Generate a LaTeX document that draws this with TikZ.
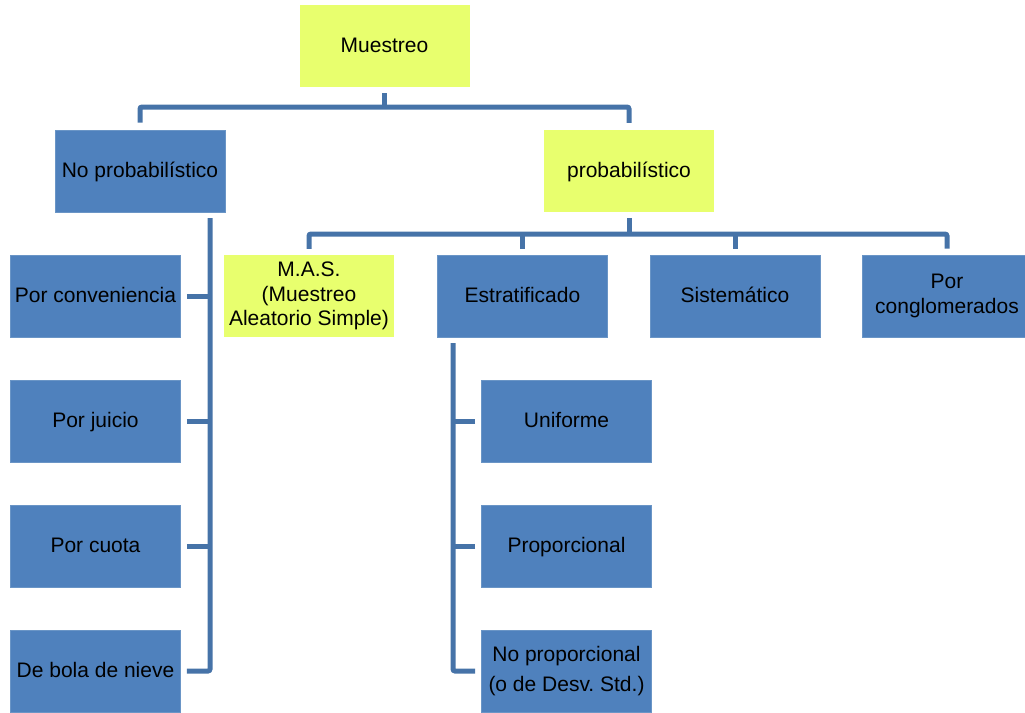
\documentclass[tikz,border=0pt]{standalone}
\usepackage{fontspec}
\setmainfont{Liberation Sans}
\definecolor{boxblue}{HTML}{4F81BD}
\definecolor{boxedge}{HTML}{6A95C6}
\definecolor{ylw}{HTML}{E8FF6E}
\definecolor{conncol}{HTML}{4673A8}
\frenchspacing
\begin{document}
\begin{tikzpicture}[x=1pt,y=-1pt,
  box/.style={rectangle, minimum width=170pt, minimum height=82pt, inner sep=0pt,
    align=center, font=\fontsize{21}{24.5}\selectfont, text=black},
  bbox/.style={box, fill=boxblue, draw=boxedge, line width=0.8pt},
  ybox/.style={box, fill=ylw},
  one/.style={text height=15pt, text depth=3pt},
  conn/.style={draw=conncol, line width=5pt, rounded corners=2pt}]
\useasboundingbox (0,0) rectangle (1025,712);
\begin{scope}
\clip (0,0) rectangle (1025,712);
\node[ybox,one] (mu) at (384.5,46) {Muestreo};
\node[bbox,one] (np) at (140,171) {No probabilístico};
\node[ybox,one] (pr) at (629,171) {probabilístico};
\node[bbox,one] (c1) at (95.5,296) {Por conveniencia};
\node[bbox,one] (c2) at (95.5,421) {Por juicio};
\node[bbox,one] (c3) at (95.5,546) {Por cuota};
\node[bbox,one] (c4) at (95.5,671) {De bola de nieve};
\node[ybox] (mas) at (309,296) {M.A.S.\\(Muestreo\\Aleatorio Simple)};
\node[bbox,one] (es) at (522.5,296) {Estratificado};
\node[bbox,one] (si) at (735,296) {Sistemático};
\node[bbox] (co) at (947,296) {Por\\conglomerados};
\node[bbox,one] (u1) at (566.5,421) {Uniforme};
\node[bbox,one] (u2) at (566.5,546) {Proporcional};
\node[bbox] (u3) at (566.5,671) {No proporcional\\[5pt](o de Desv. Std.)};
\end{scope}
\coordinate (j1) at (384.5,107);
\coordinate (j2) at (629,234);
\coordinate (lv) at (210,218);
\coordinate (rv) at (453,343);
\draw[conn] ([yshift=-6pt]mu.south) -- (j1);
\draw[conn] ([yshift=7pt]np.north) |- (j1) -| ([yshift=7pt]pr.north);
\draw[conn] ([yshift=-6pt]pr.south) -- (j2);
\draw[conn] ([yshift=6pt]mas.north) |- (j2) -| ([yshift=6pt]co.north);
\draw[conn] ([yshift=6pt]es.north) -- (es.north |- j2);
\draw[conn] ([yshift=6pt]si.north) -- (si.north |- j2);
\draw[conn] (lv) |- ([xshift=6pt]c4.east);
\draw[conn] ([xshift=6pt]c1.east) -- (lv |- c1.east);
\draw[conn] ([xshift=6pt]c2.east) -- (lv |- c2.east);
\draw[conn] ([xshift=6pt]c3.east) -- (lv |- c3.east);
\draw[conn] (rv) |- ([xshift=-6pt]u3.west);
\draw[conn] ([xshift=-6pt]u1.west) -- (rv |- u1.west);
\draw[conn] ([xshift=-6pt]u2.west) -- (rv |- u2.west);
\end{tikzpicture}
\end{document}
